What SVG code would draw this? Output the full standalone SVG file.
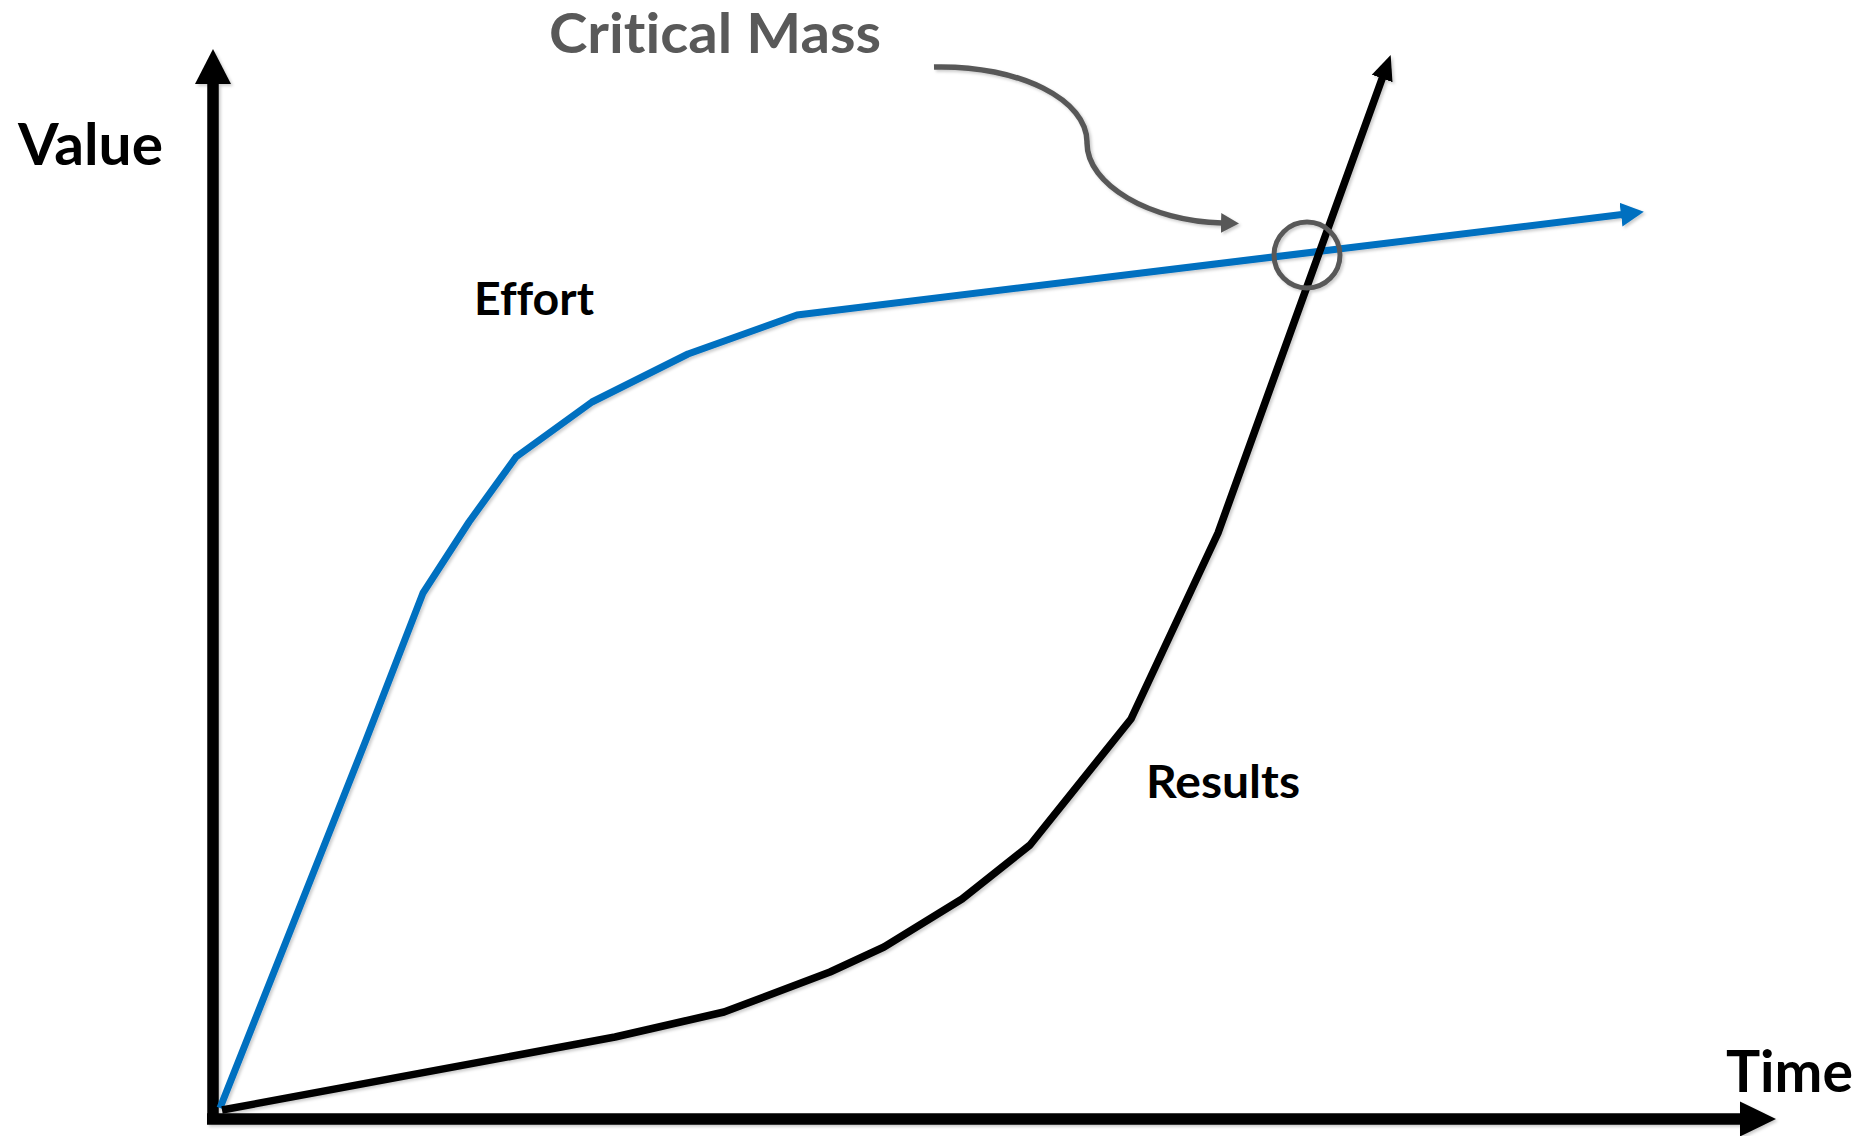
<svg xmlns="http://www.w3.org/2000/svg" width="1865" height="1136" viewBox="0 0 1865 1136">
<style>
.lbl{font-family:Lato,"Open Sans","Liberation Sans",sans-serif;font-weight:bold;fill:#000;font-variant-ligatures:none}
.axis{stroke:#000;stroke-width:11.5;fill:none}
.eff{stroke:#0070C0;stroke-width:7;fill:none;stroke-linejoin:round}
.res{stroke:#000;stroke-width:7.5;fill:none;stroke-linejoin:round}
.call{stroke:#595959;stroke-width:5.5;fill:none}
</style>
<defs>
<filter id="shadow" x="-5%" y="-5%" width="110%" height="110%"><feDropShadow dx="2" dy="2" stdDeviation="1.5" flood-color="#000" flood-opacity="0.2"/></filter>
<marker id="ahAxisY" markerUnits="userSpaceOnUse" markerWidth="40" markerHeight="40" viewBox="0 -20 40 40" refX="1" refY="0" orient="auto"><path d="M0,-18 L35,0 L0,18 Z" fill="#000"/></marker>
<marker id="ahAxisX" markerUnits="userSpaceOnUse" markerWidth="40" markerHeight="40" viewBox="0 -20 40 40" refX="1" refY="0" orient="auto"><path d="M0,-17.5 L36,0 L0,17.5 Z" fill="#000"/></marker>
<marker id="ahBlue" markerUnits="userSpaceOnUse" markerWidth="30" markerHeight="30" viewBox="0 -15 30 30" refX="1" refY="0" orient="auto"><path d="M0,-12 L23,0 L0,12 Z" fill="#0070C0"/></marker>
<marker id="ahBlack" markerUnits="userSpaceOnUse" markerWidth="30" markerHeight="30" viewBox="0 -15 30 30" refX="1" refY="0" orient="auto"><path d="M0,-11 L25,0 L0,11 Z" fill="#000"/></marker>
<marker id="ahGray" markerUnits="userSpaceOnUse" markerWidth="30" markerHeight="30" viewBox="0 -15 30 30" refX="1" refY="0" orient="auto"><path d="M0,-10 L18,0 L0,10 Z" fill="#595959"/></marker>
</defs>
<rect width="1865" height="1136" fill="#fff"/>
<g id="connectors" filter="url(#shadow)">
<path id="y-axis" class="axis" d="M213,1124 L213,83" marker-end="url(#ahAxisY)"/>
<path id="x-axis" class="axis" d="M207,1119 L1741,1119" marker-end="url(#ahAxisX)"/>
<path id="effort-curve" class="eff" d="M220,1108 L366,740 L423,593 L469,522 L516,457 L592,402 L688,354 L797,315 L1622,214.5" marker-end="url(#ahBlue)"/>
<path id="results-curve" class="res" d="M222,1110 L615,1037 L650,1029 L724,1012 L830,972 L884,947 L962,899 L1030,845 L1131,719 L1218,533 L1382.5,77.5" marker-end="url(#ahBlack)"/>
<path id="critical-callout" class="call" d="M934,67 C1020,65 1088,100 1087,143 C1087,185 1150,221 1222,223" marker-end="url(#ahGray)"/>
<circle id="critical-point" cx="1307" cy="255" r="33" fill="none" stroke="#595959" stroke-width="5"/>
</g>
<g id="label-value"><text class="lbl" x="18" y="165" font-size="58" textLength="145" lengthAdjust="spacingAndGlyphs">Value</text></g>
<g id="label-time"><text class="lbl" x="1726" y="1092" font-size="58" textLength="127" lengthAdjust="spacingAndGlyphs">Time</text></g>
<g id="label-critical"><text class="lbl" x="549" y="53" font-size="56" style="fill:#595959" textLength="332" lengthAdjust="spacingAndGlyphs">Critical Mass</text></g>
<g id="label-effort"><text class="lbl" x="474" y="315" font-size="46" textLength="120" lengthAdjust="spacingAndGlyphs">Effort</text></g>
<g id="label-results"><text class="lbl" x="1146" y="798" font-size="46" textLength="154" lengthAdjust="spacingAndGlyphs">Results</text></g>
</svg>
